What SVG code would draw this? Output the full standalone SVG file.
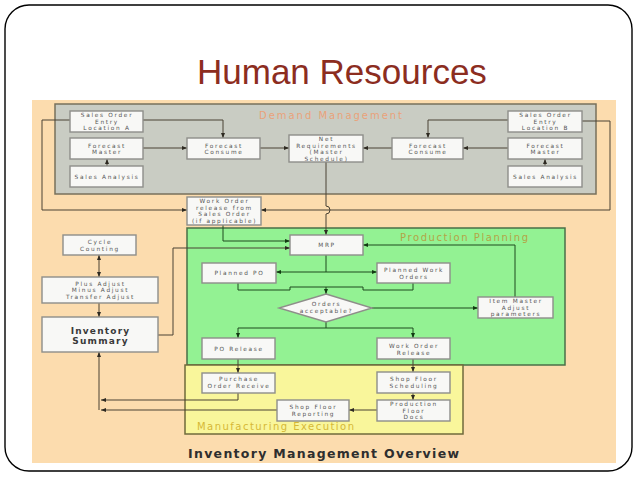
<svg xmlns="http://www.w3.org/2000/svg" width="638" height="479" viewBox="0 0 638 479">
<style>
.bx{fill:#f8f8f6;stroke:#8e8e8a;stroke-width:1.4}
.t{font-family:"DejaVu Sans",sans-serif;font-size:5.8px;letter-spacing:1.7px;fill:#555555;text-anchor:middle}
.tb{font-family:"DejaVu Sans",sans-serif;font-size:9px;font-weight:bold;letter-spacing:1.2px;fill:#3a3a3a;text-anchor:middle}
.hd{font-family:"DejaVu Sans",sans-serif;font-size:10px}
.ln{fill:none;stroke:#4a4234;stroke-width:1}
.lg{fill:none;stroke:#1f4a1f;stroke-width:1}
</style>
<defs>
<marker id="a" viewBox="0 0 10 10" refX="10" refY="5" markerWidth="5" markerHeight="5" markerUnits="userSpaceOnUse" orient="auto-start-reverse"><path d="M0,1 L10,5 L0,9 z" fill="#2e2a22"/></marker>
<marker id="g" viewBox="0 0 10 10" refX="10" refY="5" markerWidth="5" markerHeight="5" markerUnits="userSpaceOnUse" orient="auto-start-reverse"><path d="M0,1 L10,5 L0,9 z" fill="#123a12"/></marker>
</defs>
<rect x="0" y="0" width="638" height="479" fill="#ffffff"/>
<rect x="5" y="5" width="627" height="466" rx="24" ry="24" fill="#ffffff" stroke="#000" stroke-width="1.4"/>
<text x="197" y="84" font-family="Liberation Sans, Arial, sans-serif" font-size="35" fill="#8c2d1f">Human Resources</text>

<rect x="32" y="100" width="584" height="363" fill="#fcdcae"/>

<g id="demand-management">
<rect x="55" y="104" width="541" height="90" fill="#c9ccc3" stroke="#77705c" stroke-width="1.5"/>
<text class="hd" x="259" y="118.5" fill="#e9a27a" textLength="143" lengthAdjust="spacing">Demand Management</text>
</g>
<g id="production-planning">
<rect x="187" y="228" width="378" height="137" fill="#93f293" stroke="#4a6f48" stroke-width="1.5"/>
<text class="hd" x="400" y="240.5" fill="#b3a446" textLength="128" lengthAdjust="spacing">Production Planning</text>
</g>
<g id="manufacturing-execution">
<rect x="185" y="365" width="278" height="69" fill="#f9f69b" stroke="#6f6a3c" stroke-width="1.5"/>
<text class="hd" x="197" y="429.5" fill="#d6b836" textLength="157" lengthAdjust="spacing">Manufacturing Execution</text>
</g>

<g id="connectors">
<path class="ln" d="M143,120 H223 V138" marker-end="url(#a)"/>
<path class="ln" d="M143,148 H187" marker-end="url(#a)"/>
<path class="ln" d="M107,166 V159" marker-end="url(#a)"/>
<path class="ln" d="M260,148 H289" marker-end="url(#a)"/>
<path class="ln" d="M392,148 H363" marker-end="url(#a)"/>
<path class="ln" d="M508,120 H428 V138" marker-end="url(#a)"/>
<path class="ln" d="M508,148 H463" marker-end="url(#a)"/>
<path class="ln" d="M545,166 V159" marker-end="url(#a)"/>
<path class="ln" d="M70,120 H42 V210 H187" marker-end="url(#a)"/>
<path class="ln" d="M582,121 H610 V210 H261" marker-end="url(#a)"/>
<path class="ln" d="M326,161 V206 A4,4 0 0 1 326,214 V235" marker-end="url(#a)"/>
<path class="lg" d="M223,225 V241 H290" marker-end="url(#g)"/>
<path class="ln" d="M158,335 H173 V248 H290" marker-end="url(#a)"/>
<path class="lg" d="M515,297 V245 H363" marker-end="url(#g)"/>
<path class="lg" d="M326,255 V272"/>
<path class="lg" d="M326,272 H276" marker-end="url(#g)"/>
<path class="lg" d="M326,272 H377" marker-end="url(#g)"/>
<path class="lg" d="M238,283 V290 H290 V287 H363 V290 H413 V283"/>
<path class="lg" d="M326,287 V294" marker-end="url(#g)"/>
<path class="lg" d="M372,308 H478" marker-end="url(#g)"/>
<path class="lg" d="M326,322 V328 H238 V338" marker-end="url(#g)"/>
<path class="lg" d="M326,328 H413 V338" marker-end="url(#g)"/>
<path class="ln" d="M99,255 V277" marker-start="url(#a)" marker-end="url(#a)"/>
<path class="ln" d="M99,303 V317" marker-end="url(#a)"/>
<path class="ln" d="M238,359 V373" marker-end="url(#a)"/>
<path class="ln" d="M413,359 V372" marker-end="url(#a)"/>
<path class="ln" d="M413,393 V400" marker-end="url(#a)"/>
<path class="ln" d="M377,410 H349" marker-end="url(#a)"/>
<path class="ln" d="M238,393 V400 H101" marker-end="url(#a)"/>
<path class="ln" d="M277,410 H101" marker-end="url(#a)"/>
<path class="ln" d="M99,410 V352" marker-end="url(#a)"/>
</g>

<g id="sales-order-a"><rect class="bx" x="70" y="111" width="73" height="21"/><text class="t" x="107" y="117">Sales Order</text><text class="t" x="107" y="123.6">Entry</text><text class="t" x="107" y="130.2">Location A</text></g>
<g id="forecast-master-a"><rect class="bx" x="70" y="138" width="73" height="21"/><text class="t" x="107" y="147.6">Forecast</text><text class="t" x="107" y="154.4">Master</text></g>
<g id="sales-analysis-a"><rect class="bx" x="70" y="166" width="73" height="21"/><text class="t" x="107" y="178.5">Sales Analysis</text></g>
<g id="forecast-consume-a"><rect class="bx" x="187" y="138" width="73" height="21"/><text class="t" x="224" y="147.6">Forecast</text><text class="t" x="224" y="154.4">Consume</text></g>
<g id="net-requirements"><rect class="bx" x="289" y="135" width="74" height="27"/><text class="t" x="326.5" y="141">Net</text><text class="t" x="326.5" y="147.6">Requirements</text><text class="t" x="326.5" y="154.2">(Master</text><text class="t" x="326.5" y="160.6">Schedule)</text></g>
<g id="forecast-consume-b"><rect class="bx" x="392" y="138" width="71" height="21"/><text class="t" x="428" y="147.6">Forecast</text><text class="t" x="428" y="154.4">Consume</text></g>
<g id="sales-order-b"><rect class="bx" x="508" y="111" width="74" height="21"/><text class="t" x="545.5" y="117">Sales Order</text><text class="t" x="545.5" y="123.6">Entry</text><text class="t" x="545.5" y="130.2">Location B</text></g>
<g id="forecast-master-b"><rect class="bx" x="508" y="138" width="74" height="21"/><text class="t" x="545.5" y="147.6">Forecast</text><text class="t" x="545.5" y="154.4">Master</text></g>
<g id="sales-analysis-b"><rect class="bx" x="508" y="166" width="74" height="21"/><text class="t" x="545.5" y="178.5">Sales Analysis</text></g>
<g id="work-order-release-so"><rect class="bx" x="187" y="197" width="74" height="28"/><text class="t" x="224.5" y="203">Work Order</text><text class="t" x="224.5" y="209.6">release from</text><text class="t" x="224.5" y="216.2">Sales Order</text><text class="t" x="224.5" y="222.8">(if applicable)</text></g>
<g id="cycle-counting"><rect class="bx" x="63" y="235" width="73" height="20"/><text class="t" x="100" y="243.6">Cycle</text><text class="t" x="100" y="250.6">Counting</text></g>
<g id="adjustments"><rect class="bx" x="42" y="277" width="116" height="26"/><text class="t" x="100.5" y="285.6">Plus Adjust</text><text class="t" x="100.5" y="292.3">Minus Adjust</text><text class="t" x="100.5" y="299">Transfer Adjust</text></g>
<g id="inventory-summary"><rect class="bx" x="42" y="317" width="116" height="35"/><text class="tb" x="100.5" y="333.5">Inventory</text><text class="tb" x="100.5" y="344">Summary</text></g>
<g id="mrp"><rect class="bx" x="290" y="235" width="73" height="20"/><text class="t" x="327" y="247.2">MRP</text></g>
<g id="planned-po"><rect class="bx" x="202" y="263" width="74" height="20"/><text class="t" x="239.5" y="275.2">Planned PO</text></g>
<g id="planned-work-orders"><rect class="bx" x="377" y="263" width="73" height="20"/><text class="t" x="414" y="272">Planned Work</text><text class="t" x="414" y="278.8">Orders</text></g>
<g id="orders-acceptable"><polygon class="bx" points="326,294 372,308 326,322 279,308"/><text class="t" x="326.5" y="306.3">Orders</text><text class="t" x="326.5" y="313">acceptable?</text></g>
<g id="item-master"><rect class="bx" x="478" y="297" width="75" height="21"/><text class="t" x="516" y="303.2">Item Master</text><text class="t" x="516" y="309.8">Adjust</text><text class="t" x="516" y="316.4">parameters</text></g>
<g id="po-release"><rect class="bx" x="202" y="338" width="73" height="21"/><text class="t" x="239" y="350.6">PO Release</text></g>
<g id="work-order-release"><rect class="bx" x="377" y="338" width="73" height="21"/><text class="t" x="414" y="347.8">Work Order</text><text class="t" x="414" y="354.6">Release</text></g>
<g id="purchase-order-receive"><rect class="bx" x="202" y="373" width="73" height="20"/><text class="t" x="239" y="381.4">Purchase</text><text class="t" x="239" y="388.2">Order Receive</text></g>
<g id="shop-floor-scheduling"><rect class="bx" x="377" y="372" width="73" height="21"/><text class="t" x="414" y="381.4">Shop Floor</text><text class="t" x="414" y="388.4">Scheduling</text></g>
<g id="production-floor-docs"><rect class="bx" x="377" y="400" width="73" height="21"/><text class="t" x="414" y="406.2">Production</text><text class="t" x="414" y="412.8">Floor</text><text class="t" x="414" y="419.2">Docs</text></g>
<g id="shop-floor-reporting"><rect class="bx" x="277" y="400" width="72" height="21"/><text class="t" x="313.5" y="408.8">Shop Floor</text><text class="t" x="313.5" y="415.6">Reporting</text></g>

<text x="188" y="457.5" font-family="DejaVu Sans, sans-serif" font-size="12.5" font-weight="bold" fill="#2e2e2e" textLength="271" lengthAdjust="spacing">Inventory Management Overview</text>
</svg>
